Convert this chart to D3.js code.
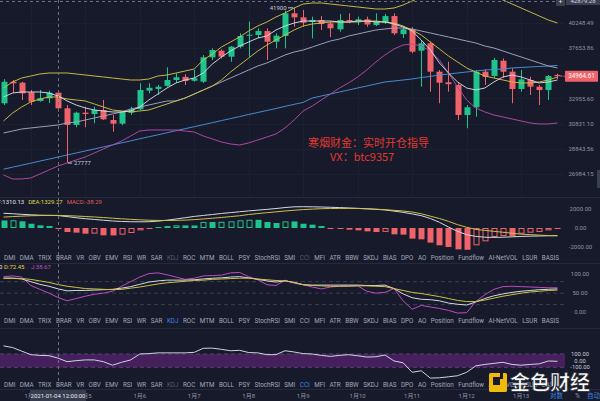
<!DOCTYPE html>
<html><head><meta charset="utf-8">
<script src="https://cdn.jsdelivr.net/npm/d3@7/dist/d3.min.js"></script>
<style>
html,body{margin:0;padding:0;background:#161a2b;overflow:hidden;}
svg{display:block;font-family:Roboto,"Noto Sans","Noto Sans CJK SC",sans-serif;}
</style></head><body>
<svg id="c" width="600" height="401"></svg>
<script>
// ---------- DATA ----------
const opens  = [32542,34455,34364,33500,32739,32974,33466,32112,30724,31740,31631,31968,31133,30831,31740,32027,33650,33800,34080,34611,34900,34540,34455,36754,37402,36813,37800,38920,38990,39400,38304,38887,41295,40860,40350,40569,40210,39580,40569,40430,40640,40036,40280,40995,39080,39580,37402,38142,35380,34400,34156,31548,32197,35380,34980,36420,35380,33796,34611,34003,33706,35080];
const highs  = [34690,34611,34455,33706,33706,33650,33706,32394,31825,32248,32248,32826,31548,31850,32248,34310,34310,34156,35794,35230,35150,35540,36979,37640,37540,37870,39166,40400,39688,39688,39166,41580,41900,41658,40930,40990,40390,41220,41295,40930,40930,41295,41220,41295,39930,39800,38477,38304,35539,36328,34310,32394,35539,35606,36700,36640,35700,35539,34900,34156,35072,35200];
const lows   = [32394,33440,32826,32394,32678,32566,31825,27777,30537,30537,30862,31133,30183,30700,31548,31968,33413,33263,34003,34364,34156,34455,34330,36493,36650,36328,37640,36813,38650,36493,37640,37640,39855,39855,38650,39509,38780,39330,40220,40036,39855,39930,40140,38990,38690,37146,34003,33555,32542,33555,31133,30456,31406,34156,34767,34800,32542,33555,33263,32394,32826,34700];
const closes = [34455,34310,33413,32678,32974,33466,32112,30724,31740,31631,31968,31190,30831,31825,32027,33706,33900,34000,34611,34859,34520,34767,36754,37471,36813,37800,38887,39020,39400,38304,38920,41295,40860,40280,40569,40140,39688,40569,40430,40640,40090,40460,40995,39166,39580,37304,38142,35380,34364,34230,31548,32197,35380,34900,36493,35380,33796,34670,34003,33706,34979,34964.61];

const bandUpper = [33886,34429,34795,34980,35165,35259,35259,35259,35165,35072,34980,34888,34795,34703,34611,34611,34703,34980,35072,35259,35446,35634,36493,37077,37771,38275,38785,39405,39931,40355,40894,41329,41880,42325,42437,42437,42325,42213,42102,41991,41880,41769,41769,41880,42213,42663,43117,43577,43923,44157,44157,44040,43807,43461,43117,42775,42325,41880,41439,41002,40569,40248];
const yellowMa  = [31051,31716,32224,32653,32913,33088,33088,32913,32826,32740,32481,32224,31968,31884,31800,31884,31968,32224,32481,32740,33000,33350,33706,34066,34611,35352,36013,36687,37373,37971,38477,38990,39509,39931,40141,40248,40355,40355,40355,40355,40462,40462,40355,40248,39931,39509,38990,38275,37571,36882,36301,35729,35352,34980,34795,34611,34429,34338,34338,34429,34611,34888];
const maShort   = [33088,33439,33528,33528,33528,33439,33176,32740,32394,32139,31968,31884,31800,31800,31884,32224,32826,33350,33886,34338,34611,34795,35259,36109,36785,37373,37871,38275,38682,38887,39509,39931,40248,40462,40462,40462,40462,40355,40355,40462,40462,40355,40355,40141,39825,39405,38477,37471,36205,35259,34429,33886,33706,33886,34429,34888,35072,34888,34611,34338,34429,34611];
const maMid     = [30079,30239,30400,30481,30562,30643,30724,30887,30969,31133,31299,31465,31632,31800,32054,32224,32394,32567,32740,32740,33000,33350,33706,34066,34429,34795,35165,35539,35918,36205,36590,36979,37275,37471,37771,38073,38376,38580,38887,39093,39301,39509,39614,39719,39719,39614,39405,39197,38990,38785,38580,38376,38174,37871,37671,37373,37077,36785,36493,36205,35918,35729];
const maLong    = [27330,27477,27622,27768,27923,28071,28221,28378,28528,28680,28831,28993,29146,29302,29458,29621,29779,29935,30095,30263,30424,30586,30748,30912,31084,31249,31415,31590,31758,31926,32097,32275,32448,32620,33000,33176,33350,33528,33706,33886,34066,34247,34429,34520,34611,34703,34842,34934,35072,35165,35259,35352,35446,35539,35587,35634,35729,35777,35825,35870,35918,35965];
const bandLower = [26915,26631,26631,26702,26985,27273,27564,27783,28005,28228,28528,28831,29139,29450,29842,30239,30319,30319,30319,30319,30239,30159,29842,29606,29372,29217,29139,29295,29528,29763,30000,30481,31133,31884,32309,32826,33350,33886,34338,34888,35539,36301,36979,37571,37971,38073,37871,37373,36493,35259,33976,32826,32139,31800,31548,31382,31216,31051,30887,30806,30806,30887];

const macdDif  = [1550,1500,1440,1390,1350,1330,1310.13,1200,1080,980,900,820,740,690,660,650,660,720,820,950,1080,1220,1320,1420,1530,1620,1710,1800,1880,1960,2050,2150,2230,2240,2230,2210,2180,2150,2110,2070,2020,1970,1900,1780,1650,1480,1300,1000,600,100,-350,-700,-880,-970,-990,-970,-930,-890,-860,-840,-820,-810];
const macdDea  = [1150,1200,1250,1290,1310,1325,1329.27,1300,1260,1210,1160,1100,1030,970,910,860,820,800,790,800,830,880,950,1030,1110,1200,1290,1420,1520,1610,1700,1790,1870,1940,1990,2030,2050,2060,2060,2050,2020,1980,1930,1860,1790,1680,1500,1250,1000,700,350,80,-150,-250,-350,-450,-550,-650,-700,-750,-790,-810];
const macdHist = [790,820,700,450,280,210,-38.29,-420,-490,-600,-590,-770,-780,-700,-525,-245,-100,100,200,280,275,270,640,630,650,700,810,870,860,630,525,700,690,450,350,210,-70,-80,-175,-245,-350,-420,-410,-665,-700,-1120,-1190,-1540,-1820,-2000,-2250,-2290,-1820,-1400,-945,-840,-860,-600,-490,-420,-245,-100];

const kdjK = [89,89,87,80,73,68,61.20,56,57,57,58,59,60,63,67,73,79,82,84,84,84,85,87,89,90,92,93,90,86,82,79,82,78,72,71,71,71,71,71,71,70,70,71,62,48,38,34,33,30,24,21,19,27,36,43,48,52,55,57,59,60,61];
const kdjD = [89,89,88,86,82,78,72.45,68,65,62,61,60,59,60,63,66,70,74,77,79,81,83,84,86,87,88,89,89,87,85,83,82,78,72,70,69,68,68,68,69,69,68,67,62,57,52,49,45,41,36,31,28,28,32,37,42,46,50,53,55,57,58];
const kdjJ = [93,95,92,70,60,50,38.67,30,36,42,47,50,55,68,80,92,101,103,98,92,86,89,95,96,97,103,104,93,85,72,70,84,76,72,66,61,66,68,69,69,55,50,52,62,30,8,18,14,10,5,-2,-1,28,46,60,67,68,67,66,65,64,64];
const cciVals = [222,197,143,90,79,75,38,-16,0,11,11,-16,-68,-25,11,100,106,117,117,117,117,125,186,188,170,149,155,122,117,90,90,149,130,106,100,79,64,79,90,74,54,58,85,-5,-32,-175,-152,-263,-258,-243,-227,-175,-79,-57,-41,-25,-57,-68,-57,-48,-5,-10];

const priceTicks = [40248.49,37653.86,32955.60,30831.10,28843.56,26984.15];
const macdTicks = [2000,0,-2000];
const kdjTicks = [100,50,0];
const kdjDashed = [80,50,20];
const cciTicks = [100,0,-100];
const dayLabels = ["1月4","1月5","1月6","1月7","1月8","1月9","1月10","1月11","1月12","1月13"];
const dayIndex  = [3,9,15,21,27,33,39,45,51,57];
const tabNames = ["DMI","DMA","TRIX","BRAR","VR","OBV","EMV","RSI","WR","SAR","KDJ","ROC","MTM","BOLL","PSY","StochRSI","SMI","CCI","MFI","ATR","BBW","SKDJ","BIAS","DPO","AO","Position","Fundflow","AI-NetVOL","LSUR","BASIS"];
const lastPrice = 34964.61, crossPrice = 42879.28, crossIndex = 6, crossTime = "2021-01-04 12:00:00";
const highMark = 41900, highIndex = 32, lowMark = 27777, lowIndex = 7;
const watermark1 = "寒烟财金：实时开仓指导", watermark2 = "VX：btc9357";

// ---------- DRAW ----------
const N = opens.length;
const svg = d3.select("#c");
const BG="#161a2b", GREEN="#1fc48c", RED="#f0636b", YEL="#cfc045", WHITE="#d6d8e2",
      GRAY="#9ea6c2", BLUE="#4b8fd8", PINK="#b54aa9", TXT="#8f95a8";
const PR = 565;
svg.append("rect").attr("width",600).attr("height",401).attr("fill",BG);

const x = d3.scaleBand().domain(d3.range(N)).range([-1,562]).padding(0);
const cx = i => x(i) + x.bandwidth()/2;
const y = d3.scaleLog().domain([26984.15,40248.49]).range([174,23]);
const yM = d3.scaleLinear().domain([-2000,2000]).range([247,209]);
const yK = d3.scaleLinear().domain([0,100]).range([312.3,274]);
const yC = d3.scaleLinear().domain([-100,100]).range([367.3,354]);

const defs = svg.append("defs");
function clip(id,x0,y0,w,h){defs.append("clipPath").attr("id",id).append("rect").attr("x",x0).attr("y",y0).attr("width",w).attr("height",h);}
clip("cm",0,0,PR,197); clip("cmacd",0,198,PR,53); clip("ckdj",0,264,PR,54); clip("ccci",0,329,PR,53);

// separators
[197.5,263.5,328.5,389.5].forEach(v=>svg.append("line").attr("x1",0).attr("x2",600).attr("y1",v).attr("y2",v).attr("stroke","#252a3b"));
// faint grid main
const gMain = svg.append("g").attr("clip-path","url(#cm)");
priceTicks.forEach(p=>gMain.append("line").attr("x1",0).attr("x2",PR).attr("y1",Math.round(y(p))+.5).attr("y2",Math.round(y(p))+.5).attr("stroke","#1c2132"));
dayIndex.forEach(i=>gMain.append("line").attr("x1",Math.round(cx(i))+.5).attr("x2",Math.round(cx(i))+.5).attr("y1",0).attr("y2",197).attr("stroke","#1c2132"));

// watermark text (behind)
svg.append("text").attr("x",308).attr("y",147).attr("fill","#e0392f").attr("font-size",11)
  .attr("font-family","'Noto Sans CJK SC',sans-serif").text(watermark1);
svg.append("text").attr("x",330).attr("y",161).attr("fill","#e0392f").attr("font-size",11)
  .attr("font-family","'Noto Sans CJK SC',sans-serif").text(watermark2);

// candles
const gc = gMain.append("g");
d3.range(N).forEach(i=>{
  const up = closes[i] >= opens[i], col = up?GREEN:RED;
  const xc = Math.round(cx(i));
  gc.append("line").attr("x1",xc+.5).attr("x2",xc+.5).attr("y1",y(highs[i])).attr("y2",y(lows[i])).attr("stroke",col);
  const t = y(Math.max(opens[i],closes[i])), b = y(Math.min(opens[i],closes[i]));
  gc.append("rect").attr("x",xc-2.5).attr("width",6).attr("y",t).attr("height",Math.max(1,b-t)).attr("fill",col);
});
// lines
const line = sc => d3.line().x((d,i)=>cx(i)).y(d=>sc(d));
[[maLong,BLUE],[bandLower,PINK],[maMid,GRAY],[yellowMa,YEL],[bandUpper,YEL],[maShort,WHITE]].forEach(([arr,c])=>{
  gMain.append("path").datum(arr).attr("d",line(y)).attr("fill","none").attr("stroke",c).attr("stroke-width",1).attr("opacity",0.95);
});
// high / low marks
const hx = cx(highIndex), hy = y(highMark);
svg.append("line").attr("x1",hx-6).attr("x2",hx-1).attr("y1",hy).attr("y2",hy).attr("stroke","#c8ccd8");
svg.append("text").attr("x",hx-7.5).attr("y",hy).attr("dy","0.35em").attr("text-anchor","end").attr("fill","#c8ccd8").attr("font-size",6).text(highMark);
const lx = cx(lowIndex), ly = y(lowMark);
svg.append("line").attr("x1",lx+1).attr("x2",lx+5).attr("y1",ly).attr("y2",ly).attr("stroke","#c8ccd8");
svg.append("text").attr("x",lx+7).attr("y",ly).attr("dy","0.35em").attr("fill","#c8ccd8").attr("font-size",6).text(lowMark);

// price axis labels
priceTicks.forEach(p=>svg.append("text").attr("x",581).attr("y",y(p)).attr("dy","0.35em").attr("text-anchor","middle").attr("fill",TXT).attr("font-size",6).text(p.toFixed(2)));
// current price
const ly0 = y(lastPrice);
svg.append("line").attr("x1",cx(N-1)+3).attr("x2",PR).attr("y1",ly0).attr("y2",ly0).attr("stroke",RED).attr("stroke-dasharray","2,1");
svg.append("rect").attr("x",565).attr("y",ly0-5.5).attr("width",33).attr("height",11).attr("fill",RED).attr("rx",1);
svg.append("text").attr("x",581.5).attr("y",ly0).attr("dy","0.35em").attr("text-anchor","middle").attr("fill","#fff").attr("font-size",6.3).text(lastPrice.toFixed(2));
// crosshair horizontal
const chy = Math.max(1.5, y(crossPrice));
svg.append("line").attr("x1",0).attr("x2",556).attr("y1",chy).attr("y2",chy).attr("stroke","#6b7185").attr("stroke-dasharray","3,3");
svg.append("rect").attr("x",556).attr("y",-2).attr("width",9).attr("height",8).attr("fill","#3a3f52");
svg.append("text").attr("x",560.5).attr("y",2).attr("dy","0.35em").attr("text-anchor","middle").attr("fill","#ddd").attr("font-size",7).text("+");
svg.append("rect").attr("x",566).attr("y",-3).attr("width",34).attr("height",8).attr("fill","#3a3f52");
svg.append("text").attr("x",583).attr("y",1).attr("dy","0.35em").attr("text-anchor","middle").attr("fill","#d8dae2").attr("font-size",6).text(crossPrice.toFixed(2));
svg.append("rect").attr("x",597).attr("y",170).attr("width",3).attr("height",18).attr("fill","#3a3f52");

// ---------- MACD ----------
const gMacd = svg.append("g").attr("clip-path","url(#cmacd)");
d3.range(N).forEach(i=>{
  const v = macdHist[i], prev = i>0?macdHist[i-1]:v;
  const col = v>=0?GREEN:RED, hollow = v>prev;
  const xc = Math.round(cx(i));
  const t = Math.min(yM(v),yM(0)), h = Math.max(1,Math.abs(yM(v)-yM(0)));
  if(hollow && h>2){
    gMacd.append("rect").attr("x",xc-2).attr("y",t+.5).attr("width",5).attr("height",h-1).attr("fill","none").attr("stroke",col).attr("stroke-width",1);
  } else {
    gMacd.append("rect").attr("x",xc-2.5).attr("y",t).attr("width",6).attr("height",h).attr("fill",col);
  }
});
gMacd.append("path").datum(macdDif).attr("d",line(yM)).attr("fill","none").attr("stroke",WHITE);
gMacd.append("path").datum(macdDea).attr("d",line(yM)).attr("fill","none").attr("stroke",YEL);
macdTicks.forEach(v=>svg.append("text").attr("x",580.5).attr("y",yM(v)).attr("dy","0.35em").attr("text-anchor","middle").attr("fill",TXT).attr("font-size",6).text(v.toFixed(2)));
const mh = svg.append("text").attr("x",-8).attr("y",203.5).attr("font-size",6);
mh.append("tspan").attr("fill","#e2e4ea").text("DIF:"+macdDif[crossIndex].toFixed(2));
mh.append("tspan").attr("dx",4).attr("fill","#e6d84a").text("DEA:"+macdDea[crossIndex].toFixed(2));
mh.append("tspan").attr("dx",4).attr("fill","#e25a5a").text("MACD:"+macdHist[crossIndex].toFixed(2));

// ---------- tab rows ----------
function tabRow(yy, blue, dim){
  const g = svg.append("g");
  const ts = tabNames.map(n=>g.append("text").attr("y",yy).attr("dy","0.35em").attr("font-size",6.3)
     .attr("fill", n===blue?"#3f82e6":(dim.includes(n)?"#545a6e":"#a2a8ba")).text(n));
  const widths = ts.map(t=>t.node().getComputedTextLength());
  const total = d3.sum(widths), gap = (559-4-total)/(tabNames.length-1);
  let xx = 4;
  ts.forEach((t,i)=>{t.attr("x",xx); xx += widths[i]+gap;});
}
tabRow(257.5, null, ["KDJ","CCI"]);
tabRow(321, "KDJ", []);
tabRow(385, "CCI", ["KDJ"]);

// ---------- KDJ ----------
const gK = svg.append("g").attr("clip-path","url(#ckdj)");
kdjDashed.forEach(v=>gK.append("line").attr("x1",0).attr("x2",PR).attr("y1",yK(v)).attr("y2",yK(v)).attr("stroke","#3a3f52").attr("stroke-dasharray","4,3"));
[[kdjJ,"#c04cc0"],[kdjK,WHITE],[kdjD,YEL]].forEach(([a,c])=>gK.append("path").datum(a).attr("d",line(yK)).attr("fill","none").attr("stroke",c));
kdjTicks.forEach(v=>svg.append("text").attr("x",580).attr("y",yK(v)).attr("dy","0.35em").attr("text-anchor","middle").attr("fill",TXT).attr("font-size",6).text(v.toFixed(2)));
svg.append("text").attr("x",2.5).attr("y",266.5).attr("dy","0.35em").attr("text-anchor","end").attr("fill","#e2e4ea").attr("font-size",6).text("K:"+kdjK[crossIndex].toFixed(2));
svg.append("text").attr("x",4).attr("y",266.5).attr("dy","0.35em").attr("fill","#e6d84a").attr("font-size",6).text("D:"+kdjD[crossIndex].toFixed(2));
svg.append("text").attr("x",31).attr("y",266.5).attr("dy","0.35em").attr("fill","#c050c0").attr("font-size",6).text("J:"+kdjJ[crossIndex].toFixed(2));

// ---------- CCI ----------
const gC = svg.append("g").attr("clip-path","url(#ccci)");
gC.append("rect").attr("x",0).attr("width",PR).attr("y",yC(100)).attr("height",yC(-100)-yC(100)).attr("fill","#45205c");
[100,-100].forEach(v=>gC.append("line").attr("x1",0).attr("x2",PR).attr("y1",yC(v)).attr("y2",yC(v)).attr("stroke","#5a4070").attr("stroke-dasharray","4,3"));
gC.append("path").datum(cciVals).attr("d",line(yC)).attr("fill","none").attr("stroke","#d0d2e0");
cciTicks.forEach(v=>svg.append("text").attr("x",580).attr("y",yC(v)).attr("dy","0.35em").attr("text-anchor","middle").attr("fill","#c8ccd8").attr("font-size",5.8).text(v.toFixed(2)));

// ---------- crosshair vertical + date axis ----------
svg.append("line").attr("x1",Math.round(cx(crossIndex))+.5).attr("x2",Math.round(cx(crossIndex))+.5).attr("y1",0).attr("y2",390).attr("stroke","#6b7185").attr("stroke-dasharray","3,3");
dayLabels.forEach((d,i)=>svg.append("text").attr("x",cx(dayIndex[i])).attr("y",395.5).attr("dy","0.35em").attr("text-anchor","middle").attr("fill",TXT).attr("font-size",6).text(d));
svg.append("rect").attr("x",cx(crossIndex)-28).attr("y",390).attr("width",56).attr("height",11).attr("fill","#363b4d");
svg.append("text").attr("x",cx(crossIndex)).attr("y",395.5).attr("dy","0.35em").attr("text-anchor","middle").attr("fill","#e6e8ee").attr("font-size",6).text(crossTime);
svg.append("text").attr("x",550).attr("y",395.5).attr("dy","0.35em").attr("fill","#3f82e6").attr("font-size",6.5).attr("font-family","'Noto Sans CJK SC',sans-serif").text("对数");
svg.append("text").attr("x",575).attr("y",395.5).attr("dy","0.35em").attr("fill",TXT).attr("font-size",6.5).text("%");
svg.append("text").attr("x",587).attr("y",395.5).attr("dy","0.35em").attr("fill","#3f82e6").attr("font-size",6.5).attr("font-family","'Noto Sans CJK SC',sans-serif").text("自动");

// ---------- logo watermark ----------
const lg = svg.append("g");
lg.append("rect").attr("x",489).attr("y",373).attr("width",18).attr("height",19).attr("fill","#f0b90b").attr("rx",1.5);
lg.append("rect").attr("x",493).attr("y",377).attr("width",7).attr("height",8).attr("fill","#161a2b");
lg.append("rect").attr("x",500).attr("y",373).attr("width",3).attr("height",6).attr("fill","#161a2b");
lg.append("text").attr("x",510).attr("y",390).attr("font-size",20).attr("font-weight","bold").attr("fill","#ffffff")
  .attr("stroke","#20232c").attr("stroke-width",0.6).attr("font-family","'Noto Sans CJK SC',sans-serif").text("金色财经");
</script>
</body></html>
